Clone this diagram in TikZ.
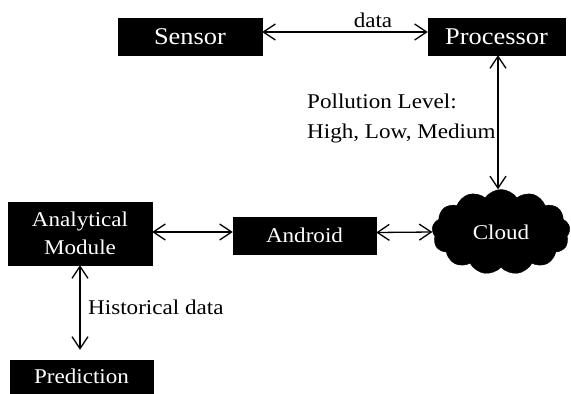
\documentclass[tikz,border=0pt]{standalone}
\usepackage{fontspec}
\setmainfont[FakeStretch=1.1]{Liberation Serif}
\usetikzlibrary{shapes.symbols,arrows.meta}
\tikzset{
  blackbox/.style={fill=black,draw=black,text=white,inner sep=0pt,align=center,font=\fontsize{21}{28}\selectfont},
  bigtext/.style={font=\fontsize{24}{28}\selectfont},
  lbl/.style={inner sep=0pt,font=\fontsize{21}{30}\selectfont,align=left},
  dbl/.style={line width=1.3pt,{Straight Barb[length=12pt,width=16pt,line width=1.3pt]}-{Straight Barb[length=12pt,width=16pt,line width=1.3pt]}}
}
\begin{document}
\begin{tikzpicture}[x=1pt,y=-1pt]
\useasboundingbox (0,0) rectangle (571,394);
\node[blackbox,bigtext,minimum width=144pt,minimum height=37pt] (sensor) at (190,36.5) {Sensor};
\node[blackbox,bigtext,minimum width=137pt,minimum height=37pt] (proc) at (496.5,36.5) {Processor};
\node[blackbox,minimum width=144pt,minimum height=63pt] (anal) at (80,233.5) {Analytical\\Module};
\node[blackbox,minimum width=143pt,minimum height=37pt] (android) at (304.5,235.5) {Android};
\node[cloud,fill=black,draw=black,text=white,cloud puffs=13,cloud puff arc=110,aspect=1.6,inner sep=0pt,minimum width=138pt,minimum height=85pt,font=\fontsize{21}{28}\selectfont] (cloud) at (501,232) {Cloud};
\node[blackbox,minimum width=143pt,minimum height=33pt] (pred) at (81.5,376.5) {Prediction};
\node[lbl,anchor=center] (datal) at (373,20) {data};
\node[lbl,anchor=west] (poll) at (307,118) {Pollution Level:\\High, Low, Medium};
\node[lbl,anchor=west] (hist) at (88,307) {Historical data};
\draw[dbl] ([yshift=4.5pt]sensor.east) -- ([yshift=4.5pt]proc.west);
\draw[dbl] ([xshift=1.5pt]proc.south) -- ([xshift=1.5pt]proc.south |- cloud.north);
\draw[dbl] ([yshift=1.5pt]anal.east) -- ([yshift=1.5pt]anal.east -| android.west);
\draw[dbl] ([yshift=3pt]android.east) -- (cloud.west);
\draw[dbl,shorten >=10pt] (anal.south) -- (anal.south |- pred.north);
\end{tikzpicture}
\end{document}
